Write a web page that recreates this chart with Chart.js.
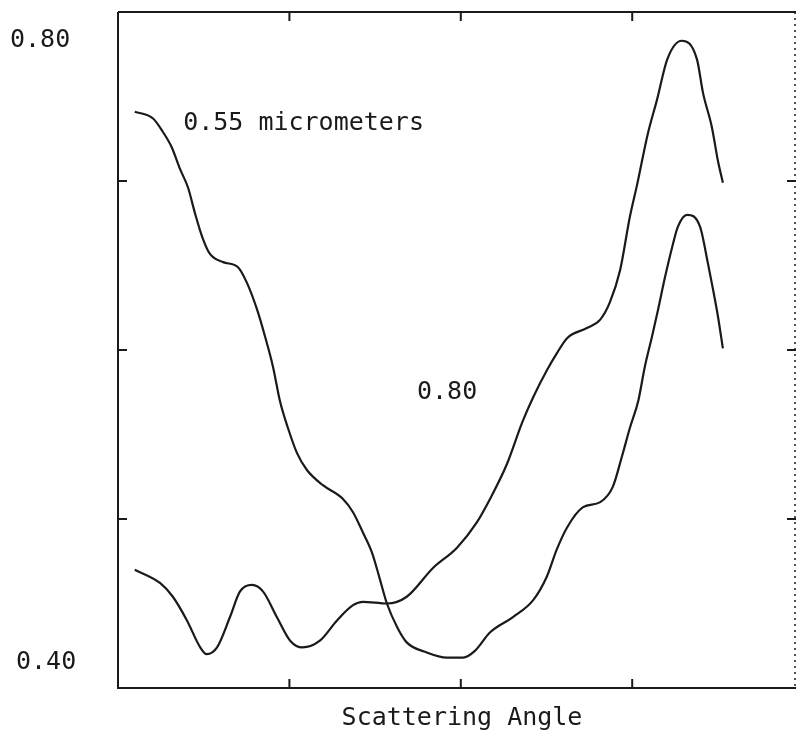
<!DOCTYPE html>
<html>
<head>
<meta charset="utf-8">
<script src="https://cdn.jsdelivr.net/npm/chart.js@4/dist/chart.umd.min.js"></script>
<style>
  html, body { margin: 0; padding: 0; background: #fff; }
  #wrap { width: 797px; height: 738px; }
</style>
</head>
<body>
<div id="wrap"><canvas id="scatter_chart" width="797" height="738"></canvas></div>
<script>
// data (angle in degrees, value on the 0.40 - 0.80 scale)
var angle055 = [4.4, 9.2, 11.8, 14.1, 16.3, 18.4, 20.2, 22.1, 24.1, 27.6, 31.5, 33.8, 36.5, 38.6, 40.7, 42.5, 44.6, 47.0, 49.6, 53.8, 59.0, 61.7, 64.3, 66.7, 68.8, 70.6, 73.3, 75.8, 81.1, 86.3, 90.6, 93.7, 97.7, 103.7, 109.0, 112.6, 115.2, 117.9, 122.1, 126.6, 129.9, 132.3, 134.4, 136.6, 138.3, 140.2, 141.8, 143.6, 145.5, 147.0, 149.4, 152.8, 154.9, 156.2, 157.5, 158.8]
var value055 = [0.741, 0.737, 0.729, 0.720, 0.707, 0.696, 0.681, 0.667, 0.657, 0.652, 0.649, 0.640, 0.624, 0.608, 0.590, 0.570, 0.554, 0.539, 0.529, 0.520, 0.512, 0.504, 0.492, 0.480, 0.464, 0.450, 0.436, 0.427, 0.421, 0.418, 0.418, 0.422, 0.433, 0.442, 0.452, 0.466, 0.482, 0.495, 0.507, 0.510, 0.519, 0.537, 0.554, 0.570, 0.590, 0.608, 0.624, 0.643, 0.661, 0.673, 0.680, 0.673, 0.651, 0.636, 0.620, 0.601]

var angle080 = [4.4, 11.1, 14.4, 18.1, 21.6, 23.3, 26.0, 29.4, 32.0, 35.2, 38.1, 41.7, 45.2, 48.4, 53.0, 57.5, 61.7, 64.3, 70.6, 75.8, 82.7, 89.0, 94.2, 97.7, 102.2, 106.1, 109.0, 112.6, 115.2, 117.9, 123.1, 126.6, 129.1, 131.8, 134.4, 136.3, 139.1, 141.5, 144.2, 148.0, 152.0, 153.6, 155.9, 157.5, 158.8]
var value080 = [0.470, 0.462, 0.454, 0.440, 0.424, 0.420, 0.424, 0.442, 0.457, 0.461, 0.457, 0.442, 0.428, 0.424, 0.428, 0.440, 0.449, 0.451, 0.450, 0.454, 0.471, 0.483, 0.498, 0.512, 0.533, 0.557, 0.572, 0.588, 0.598, 0.607, 0.613, 0.618, 0.628, 0.647, 0.679, 0.698, 0.728, 0.748, 0.772, 0.783, 0.772, 0.752, 0.732, 0.712, 0.699]

var xTicks = [45, 90, 135]
var yTicks = [0.5, 0.6, 0.7]
var yLabels = ['0.80', '0.40']
var curveLabels = ['0.55 micrometers', '0.80']
var axisTitle = 'Scattering Angle'

var FONT = '25px "DejaVu Sans Mono", monospace'
var INK = '#1a1a1a'

function points(xs, ys) {
  var out = []
  for (var i = 0; i < xs.length; i++) {
    out.push({ x: xs[i], y: ys[i] })
  }
  return out
}

// frame, inward ticks and all text
var framePlugin = {
  id: 'frame',
  afterDraw: function (chart) {
    var ctx = chart.ctx
    var a = chart.chartArea
    var sx = chart.scales.x
    var sy = chart.scales.y
    ctx.save()
    ctx.strokeStyle = INK
    ctx.lineWidth = 2
    ctx.beginPath()
    ctx.moveTo(a.left, a.top)
    ctx.lineTo(a.left, a.bottom)
    ctx.lineTo(a.right, a.bottom)
    ctx.moveTo(a.left, a.top)
    ctx.lineTo(a.right, a.top)
    ctx.stroke()
    // right edge is faint and broken in the original
    ctx.setLineDash([2, 4])
    ctx.lineWidth = 1.5
    ctx.beginPath()
    ctx.moveTo(a.right - 1, a.top)
    ctx.lineTo(a.right - 1, a.bottom)
    ctx.stroke()
    ctx.setLineDash([])

    ctx.lineWidth = 2
    ctx.beginPath()
    xTicks.forEach(function (v) {
      var px = sx.getPixelForValue(v)
      ctx.moveTo(px, a.bottom)
      ctx.lineTo(px, a.bottom - 9)
      ctx.moveTo(px, a.top)
      ctx.lineTo(px, a.top + 9)
    })
    yTicks.forEach(function (v) {
      var py = sy.getPixelForValue(v)
      ctx.moveTo(a.left, py)
      ctx.lineTo(a.left + 9, py)
      ctx.moveTo(a.right, py)
      ctx.lineTo(a.right - 9, py)
    })
    ctx.stroke()

    ctx.fillStyle = INK
    ctx.font = FONT
    ctx.textBaseline = 'middle'
    ctx.textAlign = 'left'
    ctx.fillText(yLabels[0], 10, a.top + 28)
    ctx.fillText(yLabels[1], 16, a.bottom - 26)

    ctx.fillText(curveLabels[0], sx.getPixelForValue(17.1), sy.getPixelForValue(0.734))
    ctx.textAlign = 'center'
    ctx.fillText(curveLabels[1], sx.getPixelForValue(86.4), sy.getPixelForValue(0.575))

    ctx.fillText(axisTitle, (a.left + a.right) / 2 + 5, a.bottom + 30)
    ctx.restore()
  }
}

var scatter_canvas = document.getElementById('scatter_chart')
var scatter_chart = new Chart(scatter_canvas.getContext('2d'), {
  type: 'line',
  data: {
    datasets: [{
      label: curveLabels[0],
      data: points(angle055, value055),
      borderColor: INK,
      borderWidth: 2.2,
      pointRadius: 0,
      cubicInterpolationMode: 'monotone',
      fill: false
    }, {
      label: curveLabels[1],
      data: points(angle080, value080),
      borderColor: INK,
      borderWidth: 2.2,
      pointRadius: 0,
      cubicInterpolationMode: 'monotone',
      fill: false
    }]
  },
  options: {
    responsive: false,
    animation: false,
    layout: {
      padding: { left: 118, top: 12, right: 1, bottom: 50 }
    },
    plugins: {
      legend: { display: false },
      tooltip: { enabled: false }
    },
    scales: {
      x: { type: 'linear', min: 0, max: 178, display: false },
      y: { type: 'linear', min: 0.40, max: 0.80, display: false }
    }
  },
  plugins: [framePlugin]
})
</script>
</body>
</html>
